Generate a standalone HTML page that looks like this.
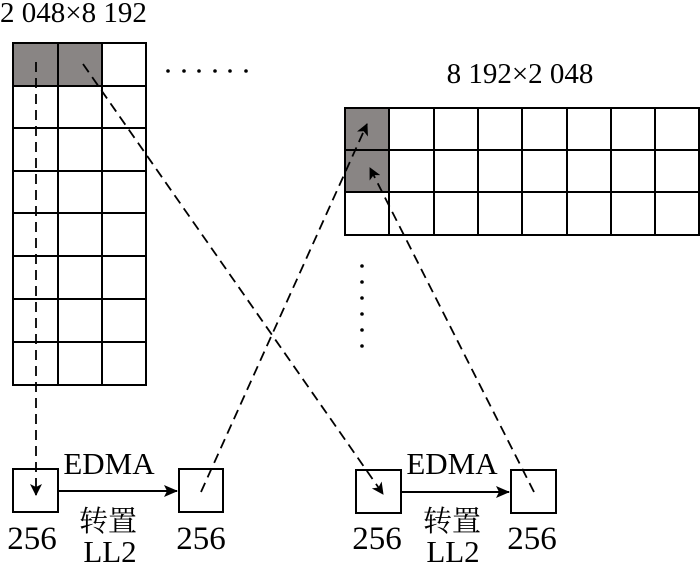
<!DOCTYPE html>
<html><head><meta charset="utf-8"><style>
html,body{margin:0;padding:0;background:#fff;}
svg{display:block;}
.t{font-family:"Liberation Serif","DejaVu Serif","Noto Serif CJK SC",serif;}
</style></head><body>
<svg width="700" height="566" viewBox="0 0 700 566" xmlns="http://www.w3.org/2000/svg">
<defs>
<marker id="ah" markerWidth="12" markerHeight="12" refX="11" refY="6" orient="auto" markerUnits="userSpaceOnUse">
<path d="M0,0 L12,6 L0,12 L3,6 Z" fill="#000"/>
</marker>
<marker id="ah2" markerWidth="14" markerHeight="12" refX="13" refY="6" orient="auto" markerUnits="userSpaceOnUse">
<path d="M0,0 L14,6 L0,12 L3,6 Z" fill="#000"/>
</marker>
</defs>
<g class="t" fill="#000">
<text x="0" y="22" font-size="29">2 048×8 192</text>
<text x="520" y="83" font-size="29" text-anchor="middle">8 192×2 048</text>
</g>
<rect x="13" y="43" width="89" height="43" fill="#898584"/>
<g stroke="#000" stroke-width="2" fill="none">
<rect x="13" y="43" width="133" height="342"/>
<line x1="58" y1="43" x2="58" y2="385"/><line x1="102" y1="43" x2="102" y2="385"/>
<line x1="13" y1="86" x2="146" y2="86"/><line x1="13" y1="128" x2="146" y2="128"/>
<line x1="13" y1="171" x2="146" y2="171"/><line x1="13" y1="213" x2="146" y2="213"/>
<line x1="13" y1="256" x2="146" y2="256"/><line x1="13" y1="299" x2="146" y2="299"/>
<line x1="13" y1="342" x2="146" y2="342"/>
</g>
<rect x="345" y="108" width="44" height="84" fill="#898584"/>
<g stroke="#000" stroke-width="2" fill="none">
<rect x="345" y="108" width="354" height="127"/>
<line x1="389" y1="108" x2="389" y2="235"/><line x1="434" y1="108" x2="434" y2="235"/>
<line x1="478" y1="108" x2="478" y2="235"/><line x1="522" y1="108" x2="522" y2="235"/>
<line x1="567" y1="108" x2="567" y2="235"/><line x1="611" y1="108" x2="611" y2="235"/>
<line x1="655" y1="108" x2="655" y2="235"/>
<line x1="345" y1="150" x2="699" y2="150"/><line x1="345" y1="192" x2="699" y2="192"/>
</g>
<g fill="#000">
<circle cx="168" cy="71" r="1.8"/><circle cx="184" cy="71" r="1.8"/><circle cx="199" cy="71" r="1.8"/>
<circle cx="215" cy="71" r="1.8"/><circle cx="230" cy="71" r="1.8"/><circle cx="246" cy="71" r="1.8"/>
<circle cx="362" cy="266" r="1.8"/><circle cx="362" cy="282" r="1.8"/><circle cx="362" cy="298" r="1.8"/>
<circle cx="362" cy="314" r="1.8"/><circle cx="362" cy="330" r="1.8"/><circle cx="362" cy="346" r="1.8"/>
</g>
<g stroke="#000" stroke-width="2" fill="none">
<rect x="13" y="469" width="45" height="43"/>
<rect x="179" y="469" width="44" height="43"/>
<rect x="356" y="470" width="45" height="43"/>
<rect x="511" y="470" width="45" height="43"/>
</g>
<g stroke="#000" stroke-width="2" fill="none">
<line x1="58" y1="491" x2="177" y2="491" marker-end="url(#ah2)"/>
<line x1="401" y1="492" x2="509" y2="492" marker-end="url(#ah2)"/>
</g>
<g stroke="#000" stroke-width="1.8" fill="none" stroke-dasharray="10,6">
<line x1="36" y1="62" x2="36" y2="495" marker-end="url(#ah)"/>
<line x1="83" y1="64" x2="383" y2="494" marker-end="url(#ah)"/>
<line x1="201" y1="492" x2="367" y2="124" marker-end="url(#ah)"/>
<line x1="534" y1="492" x2="370" y2="168" marker-end="url(#ah)"/>
</g>
<g class="t" fill="#000" font-size="31">
<text x="109" y="474" text-anchor="middle">EDMA</text>
<text x="452" y="474" text-anchor="middle">EDMA</text>
<text x="108" y="531" text-anchor="middle" font-size="29">转置</text>
<text x="452" y="531" text-anchor="middle" font-size="29">转置</text>
<text x="110" y="562" text-anchor="middle">LL2</text>
<text x="453" y="562" text-anchor="middle">LL2</text>
<text x="32" y="549" text-anchor="middle" font-size="33">256</text>
<text x="201" y="549" text-anchor="middle" font-size="33">256</text>
<text x="377" y="549" text-anchor="middle" font-size="33">256</text>
<text x="532" y="549" text-anchor="middle" font-size="33">256</text>
</g>
</svg>
</body></html>
